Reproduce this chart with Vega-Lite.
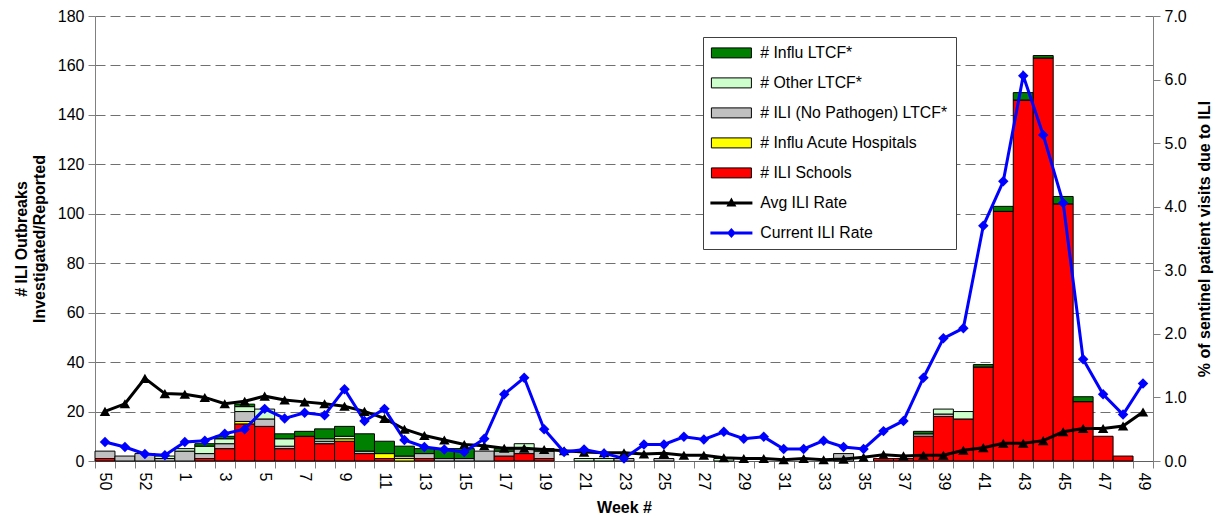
{
  "$schema": "https://vega.github.io/schema/vega-lite/v6.json",
  "width": 1058,
  "height": 445,
  "autosize": {"type": "none"},
  "padding": {"left": 95, "top": 16, "right": 72, "bottom": 59},
  "background": "white",
  "config": {
    "font": "Liberation Sans",
    "view": {"stroke": null},
    "axis": {
      "labelFont": "Liberation Sans",
      "titleFont": "Liberation Sans",
      "labelColor": "black",
      "titleColor": "black",
      "labelFontSize": 16,
      "titleFontSize": 16,
      "titleFontWeight": "bold",
      "domainColor": "#808080",
      "tickColor": "#808080",
      "tickSize": 7,
      "labelPadding": 4
    }
  },
  "datasets": {
    "bars": [
      {"week": "50", "series": "# ILI Schools", "count": 1},
      {"week": "50", "series": "# ILI (No Pathogen) LTCF*", "count": 3},
      {"week": "51", "series": "# ILI (No Pathogen) LTCF*", "count": 2},
      {"week": "52", "series": "# ILI (No Pathogen) LTCF*", "count": 3},
      {"week": "53", "series": "# ILI (No Pathogen) LTCF*", "count": 1},
      {"week": "53", "series": "# Other LTCF*", "count": 1},
      {"week": "1", "series": "# ILI (No Pathogen) LTCF*", "count": 4},
      {"week": "1", "series": "# Other LTCF*", "count": 1},
      {"week": "2", "series": "# ILI Schools", "count": 1},
      {"week": "2", "series": "# ILI (No Pathogen) LTCF*", "count": 2},
      {"week": "2", "series": "# Other LTCF*", "count": 3},
      {"week": "2", "series": "# Influ LTCF*", "count": 1},
      {"week": "3", "series": "# ILI Schools", "count": 5},
      {"week": "3", "series": "# ILI (No Pathogen) LTCF*", "count": 2},
      {"week": "3", "series": "# Other LTCF*", "count": 2},
      {"week": "3", "series": "# Influ LTCF*", "count": 1},
      {"week": "4", "series": "# ILI Schools", "count": 15},
      {"week": "4", "series": "# Influ Acute Hospitals", "count": 1},
      {"week": "4", "series": "# ILI (No Pathogen) LTCF*", "count": 4},
      {"week": "4", "series": "# Other LTCF*", "count": 2},
      {"week": "4", "series": "# Influ LTCF*", "count": 1},
      {"week": "5", "series": "# ILI Schools", "count": 14},
      {"week": "5", "series": "# ILI (No Pathogen) LTCF*", "count": 3},
      {"week": "5", "series": "# Other LTCF*", "count": 4},
      {"week": "6", "series": "# ILI Schools", "count": 5},
      {"week": "6", "series": "# ILI (No Pathogen) LTCF*", "count": 1},
      {"week": "6", "series": "# Other LTCF*", "count": 3},
      {"week": "6", "series": "# Influ LTCF*", "count": 2},
      {"week": "7", "series": "# ILI Schools", "count": 10},
      {"week": "7", "series": "# Influ LTCF*", "count": 2},
      {"week": "8", "series": "# ILI Schools", "count": 7},
      {"week": "8", "series": "# ILI (No Pathogen) LTCF*", "count": 1},
      {"week": "8", "series": "# Other LTCF*", "count": 1},
      {"week": "8", "series": "# Influ LTCF*", "count": 4},
      {"week": "9", "series": "# ILI Schools", "count": 8},
      {"week": "9", "series": "# Influ Acute Hospitals", "count": 1},
      {"week": "9", "series": "# Other LTCF*", "count": 1},
      {"week": "9", "series": "# Influ LTCF*", "count": 4},
      {"week": "10", "series": "# ILI Schools", "count": 3},
      {"week": "10", "series": "# ILI (No Pathogen) LTCF*", "count": 1},
      {"week": "10", "series": "# Influ LTCF*", "count": 7},
      {"week": "11", "series": "# ILI Schools", "count": 1},
      {"week": "11", "series": "# Influ Acute Hospitals", "count": 2},
      {"week": "11", "series": "# Influ LTCF*", "count": 5},
      {"week": "12", "series": "# Influ Acute Hospitals", "count": 1},
      {"week": "12", "series": "# ILI (No Pathogen) LTCF*", "count": 1},
      {"week": "12", "series": "# Influ LTCF*", "count": 4},
      {"week": "13", "series": "# ILI Schools", "count": 1},
      {"week": "13", "series": "# ILI (No Pathogen) LTCF*", "count": 2},
      {"week": "13", "series": "# Influ LTCF*", "count": 2},
      {"week": "14", "series": "# ILI (No Pathogen) LTCF*", "count": 1},
      {"week": "14", "series": "# Influ LTCF*", "count": 4},
      {"week": "15", "series": "# ILI (No Pathogen) LTCF*", "count": 1},
      {"week": "15", "series": "# Influ LTCF*", "count": 4},
      {"week": "16", "series": "# ILI (No Pathogen) LTCF*", "count": 4},
      {"week": "17", "series": "# ILI Schools", "count": 2},
      {"week": "17", "series": "# ILI (No Pathogen) LTCF*", "count": 2},
      {"week": "17", "series": "# Influ LTCF*", "count": 1},
      {"week": "18", "series": "# ILI Schools", "count": 3},
      {"week": "18", "series": "# ILI (No Pathogen) LTCF*", "count": 2},
      {"week": "18", "series": "# Other LTCF*", "count": 2},
      {"week": "19", "series": "# ILI Schools", "count": 1},
      {"week": "19", "series": "# ILI (No Pathogen) LTCF*", "count": 3},
      {"week": "19", "series": "# Influ LTCF*", "count": 1},
      {"week": "21", "series": "# Other LTCF*", "count": 1},
      {"week": "22", "series": "# Other LTCF*", "count": 1},
      {"week": "23", "series": "# ILI (No Pathogen) LTCF*", "count": 1},
      {"week": "25", "series": "# ILI (No Pathogen) LTCF*", "count": 1},
      {"week": "28", "series": "# Other LTCF*", "count": 1},
      {"week": "34", "series": "# ILI (No Pathogen) LTCF*", "count": 3},
      {"week": "36", "series": "# ILI Schools", "count": 1},
      {"week": "37", "series": "# ILI Schools", "count": 1},
      {"week": "38", "series": "# ILI Schools", "count": 10},
      {"week": "38", "series": "# ILI (No Pathogen) LTCF*", "count": 1},
      {"week": "38", "series": "# Influ LTCF*", "count": 1},
      {"week": "39", "series": "# ILI Schools", "count": 18},
      {"week": "39", "series": "# ILI (No Pathogen) LTCF*", "count": 1},
      {"week": "39", "series": "# Other LTCF*", "count": 2},
      {"week": "40", "series": "# ILI Schools", "count": 17},
      {"week": "40", "series": "# Other LTCF*", "count": 3},
      {"week": "41", "series": "# ILI Schools", "count": 38},
      {"week": "41", "series": "# Influ LTCF*", "count": 1},
      {"week": "42", "series": "# ILI Schools", "count": 101},
      {"week": "42", "series": "# Influ LTCF*", "count": 2},
      {"week": "43", "series": "# ILI Schools", "count": 146},
      {"week": "43", "series": "# Influ LTCF*", "count": 3},
      {"week": "44", "series": "# ILI Schools", "count": 163},
      {"week": "44", "series": "# Influ LTCF*", "count": 1},
      {"week": "45", "series": "# ILI Schools", "count": 104},
      {"week": "45", "series": "# Influ LTCF*", "count": 3},
      {"week": "46", "series": "# ILI Schools", "count": 24},
      {"week": "46", "series": "# Influ LTCF*", "count": 2},
      {"week": "47", "series": "# ILI Schools", "count": 10},
      {"week": "48", "series": "# ILI Schools", "count": 2}
    ],
    "lines": [
      {"week": "50", "series": "Avg ILI Rate", "rate": 0.78},
      {"week": "51", "series": "Avg ILI Rate", "rate": 0.90},
      {"week": "52", "series": "Avg ILI Rate", "rate": 1.30},
      {"week": "53", "series": "Avg ILI Rate", "rate": 1.06},
      {"week": "1", "series": "Avg ILI Rate", "rate": 1.05},
      {"week": "2", "series": "Avg ILI Rate", "rate": 1.00},
      {"week": "3", "series": "Avg ILI Rate", "rate": 0.90},
      {"week": "4", "series": "Avg ILI Rate", "rate": 0.94},
      {"week": "5", "series": "Avg ILI Rate", "rate": 1.02},
      {"week": "6", "series": "Avg ILI Rate", "rate": 0.96},
      {"week": "7", "series": "Avg ILI Rate", "rate": 0.93},
      {"week": "8", "series": "Avg ILI Rate", "rate": 0.90},
      {"week": "9", "series": "Avg ILI Rate", "rate": 0.86},
      {"week": "10", "series": "Avg ILI Rate", "rate": 0.78},
      {"week": "11", "series": "Avg ILI Rate", "rate": 0.67},
      {"week": "12", "series": "Avg ILI Rate", "rate": 0.50},
      {"week": "13", "series": "Avg ILI Rate", "rate": 0.40},
      {"week": "14", "series": "Avg ILI Rate", "rate": 0.33},
      {"week": "15", "series": "Avg ILI Rate", "rate": 0.26},
      {"week": "16", "series": "Avg ILI Rate", "rate": 0.24},
      {"week": "17", "series": "Avg ILI Rate", "rate": 0.20},
      {"week": "18", "series": "Avg ILI Rate", "rate": 0.20},
      {"week": "19", "series": "Avg ILI Rate", "rate": 0.18},
      {"week": "20", "series": "Avg ILI Rate", "rate": 0.16},
      {"week": "21", "series": "Avg ILI Rate", "rate": 0.14},
      {"week": "22", "series": "Avg ILI Rate", "rate": 0.13},
      {"week": "23", "series": "Avg ILI Rate", "rate": 0.13},
      {"week": "24", "series": "Avg ILI Rate", "rate": 0.11},
      {"week": "25", "series": "Avg ILI Rate", "rate": 0.12},
      {"week": "26", "series": "Avg ILI Rate", "rate": 0.09},
      {"week": "27", "series": "Avg ILI Rate", "rate": 0.09},
      {"week": "28", "series": "Avg ILI Rate", "rate": 0.05},
      {"week": "29", "series": "Avg ILI Rate", "rate": 0.04},
      {"week": "30", "series": "Avg ILI Rate", "rate": 0.04},
      {"week": "31", "series": "Avg ILI Rate", "rate": 0.02},
      {"week": "32", "series": "Avg ILI Rate", "rate": 0.04},
      {"week": "33", "series": "Avg ILI Rate", "rate": 0.02},
      {"week": "34", "series": "Avg ILI Rate", "rate": 0.03},
      {"week": "35", "series": "Avg ILI Rate", "rate": 0.06},
      {"week": "36", "series": "Avg ILI Rate", "rate": 0.10},
      {"week": "37", "series": "Avg ILI Rate", "rate": 0.08},
      {"week": "38", "series": "Avg ILI Rate", "rate": 0.09},
      {"week": "39", "series": "Avg ILI Rate", "rate": 0.09},
      {"week": "40", "series": "Avg ILI Rate", "rate": 0.17},
      {"week": "41", "series": "Avg ILI Rate", "rate": 0.21},
      {"week": "42", "series": "Avg ILI Rate", "rate": 0.28},
      {"week": "43", "series": "Avg ILI Rate", "rate": 0.28},
      {"week": "44", "series": "Avg ILI Rate", "rate": 0.32},
      {"week": "45", "series": "Avg ILI Rate", "rate": 0.46},
      {"week": "46", "series": "Avg ILI Rate", "rate": 0.51},
      {"week": "47", "series": "Avg ILI Rate", "rate": 0.51},
      {"week": "48", "series": "Avg ILI Rate", "rate": 0.55},
      {"week": "49", "series": "Avg ILI Rate", "rate": 0.77},
      {"week": "50", "series": "Current ILI Rate", "rate": 0.30},
      {"week": "51", "series": "Current ILI Rate", "rate": 0.22},
      {"week": "52", "series": "Current ILI Rate", "rate": 0.11},
      {"week": "53", "series": "Current ILI Rate", "rate": 0.09},
      {"week": "1", "series": "Current ILI Rate", "rate": 0.30},
      {"week": "2", "series": "Current ILI Rate", "rate": 0.32},
      {"week": "3", "series": "Current ILI Rate", "rate": 0.43},
      {"week": "4", "series": "Current ILI Rate", "rate": 0.50},
      {"week": "5", "series": "Current ILI Rate", "rate": 0.82},
      {"week": "6", "series": "Current ILI Rate", "rate": 0.67},
      {"week": "7", "series": "Current ILI Rate", "rate": 0.76},
      {"week": "8", "series": "Current ILI Rate", "rate": 0.72},
      {"week": "9", "series": "Current ILI Rate", "rate": 1.13},
      {"week": "10", "series": "Current ILI Rate", "rate": 0.63},
      {"week": "11", "series": "Current ILI Rate", "rate": 0.82},
      {"week": "12", "series": "Current ILI Rate", "rate": 0.33},
      {"week": "13", "series": "Current ILI Rate", "rate": 0.22},
      {"week": "14", "series": "Current ILI Rate", "rate": 0.18},
      {"week": "15", "series": "Current ILI Rate", "rate": 0.14},
      {"week": "16", "series": "Current ILI Rate", "rate": 0.35},
      {"week": "17", "series": "Current ILI Rate", "rate": 1.05},
      {"week": "18", "series": "Current ILI Rate", "rate": 1.31},
      {"week": "19", "series": "Current ILI Rate", "rate": 0.50},
      {"week": "20", "series": "Current ILI Rate", "rate": 0.14},
      {"week": "21", "series": "Current ILI Rate", "rate": 0.18},
      {"week": "22", "series": "Current ILI Rate", "rate": 0.12},
      {"week": "23", "series": "Current ILI Rate", "rate": 0.04},
      {"week": "24", "series": "Current ILI Rate", "rate": 0.26},
      {"week": "25", "series": "Current ILI Rate", "rate": 0.26},
      {"week": "26", "series": "Current ILI Rate", "rate": 0.38},
      {"week": "27", "series": "Current ILI Rate", "rate": 0.34},
      {"week": "28", "series": "Current ILI Rate", "rate": 0.46},
      {"week": "29", "series": "Current ILI Rate", "rate": 0.35},
      {"week": "30", "series": "Current ILI Rate", "rate": 0.38},
      {"week": "31", "series": "Current ILI Rate", "rate": 0.19},
      {"week": "32", "series": "Current ILI Rate", "rate": 0.19},
      {"week": "33", "series": "Current ILI Rate", "rate": 0.32},
      {"week": "34", "series": "Current ILI Rate", "rate": 0.22},
      {"week": "35", "series": "Current ILI Rate", "rate": 0.19},
      {"week": "36", "series": "Current ILI Rate", "rate": 0.47},
      {"week": "37", "series": "Current ILI Rate", "rate": 0.63},
      {"week": "38", "series": "Current ILI Rate", "rate": 1.31},
      {"week": "39", "series": "Current ILI Rate", "rate": 1.93},
      {"week": "40", "series": "Current ILI Rate", "rate": 2.09},
      {"week": "41", "series": "Current ILI Rate", "rate": 3.70},
      {"week": "42", "series": "Current ILI Rate", "rate": 4.40},
      {"week": "43", "series": "Current ILI Rate", "rate": 6.06},
      {"week": "44", "series": "Current ILI Rate", "rate": 5.13},
      {"week": "45", "series": "Current ILI Rate", "rate": 4.06},
      {"week": "46", "series": "Current ILI Rate", "rate": 1.60},
      {"week": "47", "series": "Current ILI Rate", "rate": 1.05},
      {"week": "48", "series": "Current ILI Rate", "rate": 0.73},
      {"week": "49", "series": "Current ILI Rate", "rate": 1.22}
    ]
  },
  "layer": [
    {
      "data": {"name": "bars"},
      "transform": [
        {"calculate": "indexof(['# ILI Schools', '# Influ Acute Hospitals', '# ILI (No Pathogen) LTCF*', '# Other LTCF*', '# Influ LTCF*'], datum.series)", "as": "stackRank"}
      ],
      "mark": {"type": "bar", "stroke": "black"},
      "encoding": {
        "x": {
          "field": "week", "type": "ordinal",
          "sort": ["50","51","52","53","1","2","3","4","5","6","7","8","9","10","11","12","13","14","15","16","17","18","19","20","21","22","23","24","25","26","27","28","29","30","31","32","33","34","35","36","37","38","39","40","41","42","43","44","45","46","47","48","49"],
          "scale": {"domain": ["50","51","52","53","1","2","3","4","5","6","7","8","9","10","11","12","13","14","15","16","17","18","19","20","21","22","23","24","25","26","27","28","29","30","31","32","33","34","35","36","37","38","39","40","41","42","43","44","45","46","47","48","49"], "paddingInner": 0, "paddingOuter": 0},
          "axis": {"title": "Week #", "labelAngle": 90, "labelOverlap": false, "tickBand": "extent", "titlePadding": 10, "domainColor": "#606060",
                   "labelExpr": "(datum.value === '50' || datum.value === '52' || (toNumber(datum.value) < 50 && toNumber(datum.value) % 2 === 1)) ? datum.label : ''"}
        },
        "y": {
          "field": "count", "type": "quantitative", "stack": "zero",
          "scale": {"domain": [0, 180], "nice": false},
          "axis": {"title": ["# ILI Outbreaks", "Investigated/Reported"], "values": [0,20,40,60,80,100,120,140,160,180],
                   "grid": true, "gridDash": [10, 5], "gridColor": "#707070", "gridWidth": 1, "titlePadding": 10}
        },
        "color": {
          "field": "series", "type": "nominal",
          "scale": {"domain": ["# Influ LTCF*", "# Other LTCF*", "# ILI (No Pathogen) LTCF*", "# Influ Acute Hospitals", "# ILI Schools", "Avg ILI Rate", "Current ILI Rate"],
                    "range": ["#008000", "#CCFFCC", "#C0C0C0", "#FFFF00", "#FF0000", "#000000", "#0000FF"]},
          "legend": {
            "title": null, "orient": "none", "legendX": 608, "legendY": 21, "direction": "vertical",
            "fillColor": "white", "strokeColor": "#404040", "padding": 8,
            "labelFont": "Liberation Sans", "labelFontSize": 15.8, "labelColor": "black", "labelLimit": 400,
            "symbolSize": 100, "symbolOffset": 12.5, "labelOffset": 21, "rowPadding": 13,
            "symbolType": {"expr": "datum.value === 'Avg ILI Rate' ? 'M-4.2,-0.3L4.2,-0.3L4.2,0.3L-4.2,0.3Z M0,-1.1L1,0.7L-1,0.7Z' : (datum.value === 'Current ILI Rate' ? 'M-4.2,-0.3L4.2,-0.3L4.2,0.3L-4.2,0.3Z M0,-1L0.9,0L0,1L-0.9,0Z' : 'M-4,-1L4,-1L4,1L-4,1Z')"},
            "symbolStrokeWidth": {"expr": "(datum.value === 'Avg ILI Rate' || datum.value === 'Current ILI Rate') ? 0 : 1"},
            "symbolOpacity": 1
          }
        },
        "order": {"field": "stackRank", "type": "quantitative"}
      }
    },
    {
      "data": {"name": "lines"},
      "encoding": {
        "x": {
          "field": "week", "type": "ordinal",
          "sort": ["50","51","52","53","1","2","3","4","5","6","7","8","9","10","11","12","13","14","15","16","17","18","19","20","21","22","23","24","25","26","27","28","29","30","31","32","33","34","35","36","37","38","39","40","41","42","43","44","45","46","47","48","49"],
          "scale": {"domain": ["50","51","52","53","1","2","3","4","5","6","7","8","9","10","11","12","13","14","15","16","17","18","19","20","21","22","23","24","25","26","27","28","29","30","31","32","33","34","35","36","37","38","39","40","41","42","43","44","45","46","47","48","49"], "paddingInner": 0, "paddingOuter": 0},
          "axis": {"title": "Week #", "labelAngle": 90, "labelOverlap": false, "tickBand": "extent", "titlePadding": 10, "domainColor": "#606060",
                   "labelExpr": "(datum.value === '50' || datum.value === '52' || (toNumber(datum.value) < 50 && toNumber(datum.value) % 2 === 1)) ? datum.label : ''"}
        },
        "y": {
          "field": "rate", "type": "quantitative",
          "scale": {"domain": [0, 7], "nice": false},
          "axis": {"orient": "right", "title": "% of sentinel patient visits due to ILI", "values": [0,1,2,3,4,5,6,7], "format": ".1f",
                   "grid": false, "titleAngle": -90, "titleBaseline": "top", "titlePadding": 10}
        },
        "color": {
          "field": "series", "type": "nominal",
          "scale": {"domain": ["# Influ LTCF*", "# Other LTCF*", "# ILI (No Pathogen) LTCF*", "# Influ Acute Hospitals", "# ILI Schools", "Avg ILI Rate", "Current ILI Rate"],
                    "range": ["#008000", "#CCFFCC", "#C0C0C0", "#FFFF00", "#FF0000", "#000000", "#0000FF"]},
          "legend": null
        }
      },
      "layer": [
        {"mark": {"type": "line", "strokeWidth": 3}},
        {
          "mark": {"type": "point", "filled": true, "size": 110, "opacity": 1},
          "encoding": {
            "shape": {"field": "series", "type": "nominal",
                      "scale": {"domain": ["Avg ILI Rate", "Current ILI Rate"], "range": ["triangle-up", "diamond"]},
                      "legend": null}
          }
        }
      ]
    }
  ],
  "resolve": {"scale": {"y": "independent"}, "legend": {"color": "independent"}}
}
